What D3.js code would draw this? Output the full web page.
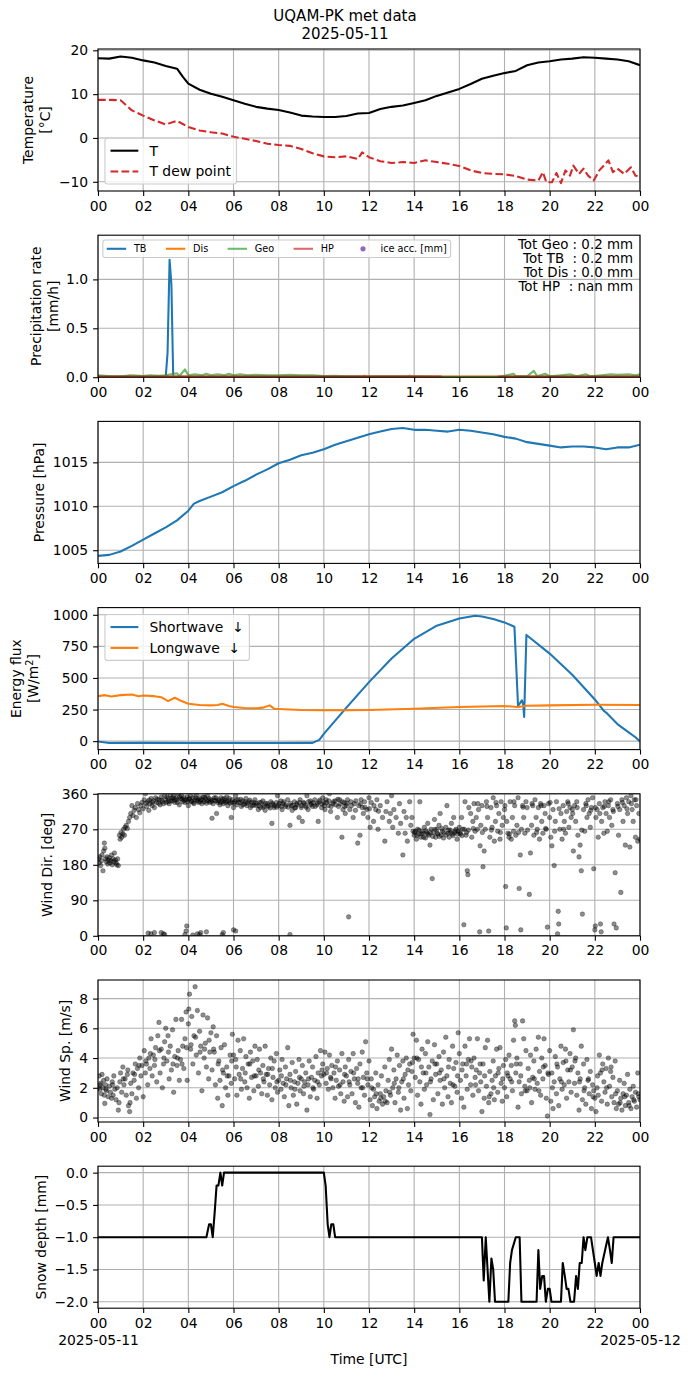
<!DOCTYPE html>
<html>
<head>
<meta charset="utf-8">
<script src="https://cdn.jsdelivr.net/npm/d3@7"></script>
<style>
  body { margin: 0; background: #fff; }
  text { font-family: "DejaVu Sans", sans-serif; }
</style>
</head>
<body>
<svg id="chart" width="690" height="1377"></svg>
<script>
// ---- data (hours UTC) ----
let title1 = "UQAM-PK met data", title2 = "2025-05-11";
let hourTicks = [0, 2, 4, 6, 8, 10, 12, 14, 16, 18, 20, 22, 24];

let tempT = [[0,18.2],[0.5,18.1],[1,18.6],[1.5,18.3],[2,17.7],[2.5,17.2],[3,16.4],[3.5,15.8],[3.75,14.0],[4,12.4],[4.5,11.0],[5,10.1],[5.5,9.4],[6,8.6],[6.5,7.8],[7,7.1],[7.5,6.7],[8,6.4],[8.5,5.8],[9,5.1],[9.5,4.9],[10,4.8],[10.5,4.8],[11,5.0],[11.5,5.6],[12,5.7],[12.5,6.6],[13,7.1],[13.5,7.4],[14,8.0],[14.5,8.6],[15,9.6],[15.5,10.4],[16,11.2],[16.5,12.3],[17,13.5],[17.5,14.2],[18,14.8],[18.5,15.3],[19,16.6],[19.5,17.2],[20,17.5],[20.5,17.9],[21,18.1],[21.5,18.4],[22,18.3],[22.5,18.1],[23,17.9],[23.5,17.5],[24,16.6]];
let tempTd = [[0,8.7],[0.5,8.7],[1,8.6],[1.5,6.3],[2,5.1],[2.5,4.0],[3,3.1],[3.5,3.9],[4,2.5],[4.5,1.7],[5,1.3],[5.5,1.0],[6,0.3],[6.5,-0.2],[7,-0.7],[7.5,-1.3],[8,-1.6],[8.5,-1.8],[9,-2.5],[9.5,-3.5],[10,-4.2],[10.5,-4.4],[11,-4.2],[11.5,-4.8],[11.7,-3.3],[12,-4.4],[12.5,-5.3],[13,-5.7],[13.5,-5.5],[14,-5.7],[14.5,-5.1],[15,-5.5],[15.5,-5.9],[16,-6.4],[16.5,-7.4],[17,-8.0],[17.5,-8.2],[18,-8.3],[18.5,-8.7],[19,-9.5],[19.5,-9.7],[19.7,-7.8],[19.85,-10.1],[20.1,-10.1],[20.3,-8.0],[20.5,-10.3],[20.7,-7.4],[20.9,-8.6],[21.05,-6.3],[21.3,-8.2],[21.5,-7.0],[21.7,-8.6],[21.95,-9.7],[22.2,-7.4],[22.4,-6.3],[22.6,-5.1],[22.8,-7.8],[23,-7.0],[23.3,-8.2],[23.6,-6.7],[23.8,-8.6],[24,-8.8]];

let precipTB = [[0,0.005],[3.0,0.005],[3.08,0.25],[3.17,1.2],[3.25,0.95],[3.33,0.005],[24,0.005]];
let precipDis = [[0,0.008],[1.35,0.008],[1.4,0.016],[1.45,0.008],[11.75,0.008],[11.8,0.016],[11.85,0.008],[13.75,0.008],[13.8,0.016],[13.85,0.008],[24,0.008]];
let precipGeo = [[0,0.02],[0.3,0.015],[0.6,0.01],[1.0,0.01],[1.5,0.02],[2.0,0.012],[2.3,0.02],[2.7,0.015],[3.0,0.02],[3.5,0.04],[3.6,0.01],[3.85,0.08],[4.0,0.02],[4.3,0.03],[4.6,0.02],[4.8,0.035],[5.0,0.02],[5.3,0.03],[5.6,0.02],[5.8,0.035],[6.0,0.02],[6.3,0.03],[6.6,0.02],[7.0,0.025],[7.5,0.02],[8.0,0.02],[8.5,0.025],[9.0,0.02],[9.5,0.02],[10.0,0.012],[10.5,0.015],[11.0,0.01],[12.0,0.01],[13,0.01],[14,0.01],[15.2,0.005],[15.3,0],[17.7,0],[17.9,0.01],[18.4,0.035],[18.5,0.01],[19.0,0.01],[19.3,0.065],[19.45,0.01],[19.8,0.035],[20.0,0.01],[20.5,0.02],[20.9,0.03],[21.2,0.01],[21.6,0.03],[21.8,0.01],[22.3,0.02],[22.7,0.03],[23.0,0.025],[23.5,0.03],[23.8,0.02],[24,0.03]];
let precipHP = [[0,0.007],[15.2,0.007],[15.2,null],[17.7,null],[17.7,0.007],[24,0.007]];
let precipTotals = ["Tot Geo : 0.2 mm", "Tot TB  : 0.2 mm", "Tot Dis : 0.0 mm", "Tot HP  : nan mm"];

let pressure = [[0,1004.36],[0.5,1004.47],[1,1004.85],[1.5,1005.5],[2,1006.2],[2.5,1006.9],[3,1007.6],[3.5,1008.4],[4,1009.5],[4.25,1010.3],[4.5,1010.6],[5,1011.1],[5.5,1011.6],[6,1012.3],[6.5,1012.9],[7,1013.6],[7.5,1014.2],[8,1014.9],[8.5,1015.3],[9,1015.8],[9.5,1016.1],[10,1016.5],[10.5,1017.0],[11,1017.4],[11.5,1017.8],[12,1018.2],[12.5,1018.5],[13,1018.8],[13.5,1018.9],[14,1018.7],[14.5,1018.7],[15,1018.6],[15.5,1018.5],[16,1018.7],[16.5,1018.6],[17,1018.4],[17.5,1018.2],[18,1017.9],[18.5,1017.7],[19,1017.3],[19.5,1017.1],[20,1016.9],[20.5,1016.7],[21,1016.8],[21.5,1016.8],[22,1016.7],[22.5,1016.5],[23,1016.7],[23.5,1016.7],[24,1017.0]];

let swDown = [[0,-3],[0.5,-15],[2,-14],[4,-15],[6,-15],[8,-15],[9.5,-14],[9.8,10],[10,57],[11,265],[12,467],[13,654],[14,810],[15,914],[16,971],[16.7,992],[17,987],[17.5,966],[18,940],[18.44,906],[18.6,278],[18.77,322],[18.83,291],[18.87,192],[18.97,841],[19,836],[20,693],[21,525],[22,330],[22.4,239],[22.5,226],[23,135],[23.5,70],[23.8,31],[24,-3]];
let lwDown = [[0,356],[0.3,364],[0.6,353],[1,364],[1.5,369],[1.8,356],[2,361],[2.5,356],[2.8,348],[3.1,317],[3.4,343],[3.7,317],[4,296],[4.5,286],[5,283],[5.3,286],[5.5,296],[5.8,278],[6,270],[6.5,262],[7,260],[7.3,265],[7.6,283],[7.8,257],[8,255],[9,247],[10,244],[11,244],[12,247],[14,257],[16,270],[18,278],[18.6,270],[19,280],[20,283],[22,288],[24,286]];

let windDir = [[0.02,195],[0.05,185],[0.08,200],[0.12,178],[0.15,190],[0.18,205],[0.22,165],[0.25,215],[0.28,235],[0.3,222],[0.33,195],[0.37,188],[0.4,200],[0.43,182],[0.47,192],[0.5,198],[0.53,185],[0.57,190],[0.6,205],[0.63,180],[0.67,195],[0.7,188],[0.73,210],[0.77,192],[0.8,185],[0.83,180],[0.87,195],[0.9,178],
[0.95,255],[0.98,245],[1.02,262],[1.05,250],[1.1,258],[1.13,270],[1.17,255],[1.2,275],[1.25,280],[1.3,272],[1.35,290],[1.4,300],[1.45,310],[1.5,330],[1.55,305],[1.6,318],[1.65,325],[1.7,300],[1.75,335],[1.8,320],[1.85,312],[1.9,330],[1.95,338],[2.0,322],
[2.05,345],[2.1,360],[2.15,328],[2.2,340],[2.25,318],[2.3,335],[2.35,348],[2.4,330],[2.45,342],[2.5,325],[2.55,350],[2.6,338],[2.7,345],[2.75,332],[2.8,352],[2.85,340],[2.9,335],[2.95,355],[2.22,7],[2.35,5],[2.5,8],[2.8,8],[2.9,5],[2.95,3],
[3.0,345],[3.05,352],[3.1,340],[3.15,335],[3.2,358],[3.25,348],[3.3,342],[3.35,355],[3.4,338],[3.45,350],[3.5,345],[3.55,360],[3.6,332],[3.65,348],[3.7,355],[3.75,340],[3.8,350],[3.85,338],[3.9,345],[3.95,352],[3.9,12],[3.93,25],[3.85,3],
[4.0,330],[4.05,348],[4.1,355],[4.15,340],[4.2,350],[4.25,335],[4.3,345],[4.35,358],[4.4,342],[4.45,338],[4.5,350],[4.55,345],[4.6,335],[4.65,352],[4.7,340],[4.75,348],[4.8,336],[4.85,355],[4.9,343],[4.95,338],[4.2,2],[4.4,5],[4.5,3],[4.55,8],[4.8,10],
[5.0,345],[5.05,298],[5.1,335],[5.15,350],[5.2,342],[5.25,310],[5.3,338],[5.35,345],[5.4,332],[5.45,350],[5.5,340],[5.55,335],[5.6,348],[5.65,338],[5.7,352],[5.75,330],[5.8,342],[5.85,336],[5.9,300],[5.95,345],[5.55,8],[5.5,3],[6.0,15],[6.1,12],
[6.0,325],[6.05,340],[6.1,355],[6.15,332],[6.2,345],[6.3,338],[6.35,328],[6.4,342],[6.5,335],[6.55,348],[6.6,330],[6.7,340],[6.75,325],[6.8,338],[6.9,332],[6.95,345],
[7.0,330],[7.1,320],[7.15,338],[7.2,325],[7.3,342],[7.35,330],[7.4,318],[7.5,335],[7.55,328],[7.65,340],[7.7,285],[7.75,332],[7.8,325],[7.9,338],[7.95,355],
[8.0,330],[8.1,342],[8.15,320],[8.2,335],[8.3,328],[8.4,345],[8.5,280],[8.55,330],[8.6,318],[8.7,340],[8.75,325],[8.8,335],[8.9,300],[8.95,345],[8.5,3],
[9.0,325],[9.05,290],[9.1,338],[9.2,330],[9.25,355],[9.3,320],[9.4,342],[9.45,335],[9.5,328],[9.6,345],[9.7,332],[9.75,290],[9.8,340],[9.9,325],[9.95,350],
[10.0,338],[10.05,320],[10.1,345],[10.2,330],[10.25,360],[10.3,315],[10.4,335],[10.5,342],[10.6,300],[10.65,328],[10.7,345],[10.8,250],[10.85,320],[10.9,338],[10.95,310],
[11.0,330],[11.05,345],[11.1,48],[11.15,320],[11.2,340],[11.3,300],[11.35,335],[11.4,318],[11.5,235],[11.55,330],[11.6,255],[11.65,345],[11.7,325],[11.75,310],[11.8,340],[11.9,320],[11.95,300],
[12.0,350],[12.05,275],[12.1,338],[12.2,290],[12.3,320],[12.35,345],[12.4,270],[12.5,330],[12.6,300],[12.7,240],[12.75,315],[12.8,340],[12.9,290],[12.95,310],[13.0,355],
[13.05,275],[13.1,320],[13.2,300],[13.3,260],[13.35,335],[13.4,285],[13.5,205],[13.55,315],[13.6,260],[13.65,300],[13.7,240],[13.8,340],[13.85,280],[13.9,300],[13.95,265],
[14.0,255],[14.05,265],[14.1,245],[14.15,270],[14.2,258],[14.25,340],[14.3,250],[14.35,265],[14.4,260],[14.45,275],[14.5,248],[14.55,262],[14.6,285],[14.65,255],[14.7,230],[14.75,270],[14.8,145],[14.85,262],[14.9,295],[14.95,250],
[15.0,270],[15.05,258],[15.1,280],[15.15,310],[15.2,255],[15.25,265],[15.3,248],[15.4,275],[15.45,330],[15.5,260],[15.55,250],[15.6,268],[15.65,285],[15.7,258],[15.75,300],[15.8,262],[15.85,270],[15.9,245],[15.95,265],
[16.0,275],[16.05,258],[16.1,300],[16.15,270],[16.2,28],[16.25,340],[16.3,255],[16.35,165],[16.38,155],[16.4,268],[16.5,310],[16.55,250],[16.6,290],[16.65,335],[16.7,265],[16.75,300],[16.8,270],[16.85,320],[16.9,10],[16.92,228],[16.95,280],
[17.0,330],[17.05,175],[17.1,215],[17.15,270],[17.2,340],[17.25,300],[17.3,12],[17.35,250],[17.4,325],[17.45,275],[17.5,350],[17.55,240],[17.6,290],[17.65,330],[17.7,265],[17.75,310],[17.8,245],[17.85,340],[17.9,280],[17.95,300],
[18.0,320],[18.05,125],[18.08,20],[18.1,290],[18.15,260],[18.2,250],[18.25,340],[18.3,245],[18.35,300],[18.4,265],[18.45,330],[18.5,255],[18.55,280],[18.6,350],[18.65,120],[18.7,205],[18.72,15],[18.75,270],[18.8,330],[18.85,300],[18.9,260],[18.95,340],
[19.0,325],[19.1,105],[19.15,210],[19.2,280],[19.25,330],[19.3,255],[19.35,345],[19.4,300],[19.45,270],[19.5,325],[19.55,245],[19.6,335],[19.65,290],[19.7,260],[19.75,330],[19.8,310],[19.85,270],[19.9,22],[19.95,335],
[20.0,300],[20.05,250],[20.1,228],[20.15,320],[20.2,178],[20.25,290],[20.3,340],[20.35,5],[20.38,62],[20.4,30],[20.45,270],[20.5,310],[20.55,245],[20.6,330],[20.65,290],[20.7,260],[20.75,315],[20.8,340],[20.85,275],[20.9,325],[20.95,300],
[21.0,320],[21.05,215],[21.1,330],[21.15,290],[21.2,340],[21.25,255],[21.3,200],[21.35,230],[21.4,165],[21.45,55],[21.5,320],[21.55,265],[21.6,335],[21.65,300],[21.7,345],[21.75,310],[21.8,275],[21.85,325],[21.9,350],[21.95,170],
[22.0,15],[22.02,25],[22.05,300],[22.1,320],[22.15,250],[22.2,335],[22.25,30],[22.28,10],[22.3,290],[22.35,325],[22.4,260],[22.45,340],[22.5,310],[22.55,265],[22.6,330],[22.65,300],[22.7,345],[22.75,280],[22.8,320],[22.85,30],[22.9,160],[22.95,20],
[23.0,335],[23.05,255],[23.1,320],[23.15,110],[23.2,345],[23.25,290],[23.3,330],[23.35,230],[23.4,350],[23.45,310],[23.5,340],[23.55,225],[23.6,355],[23.65,320],[23.7,290],[23.75,345],[23.8,250],[23.85,330],[23.9,240],[23.95,310],[24.0,245],
[2.12,336],[2.27,344],[2.42,338],[2.62,346],[2.68,336],[2.82,344],[3.02,338],[3.12,348],[3.22,342],[3.32,350],[3.42,344],[3.52,338],[3.62,352],[3.72,346],[3.82,344],[3.97,340],[4.02,346],[4.12,342],[4.22,338],[4.32,350],[4.42,346],[4.52,340],[4.62,344],[4.72,352],[4.82,342],[4.92,348],[5.02,340],[5.12,344],[5.22,350],[5.32,342],[5.42,338],[5.52,346],[5.62,342],[5.72,340],[5.82,348],[5.92,338],[6.02,336],[6.12,344],[6.22,338],[6.32,346],[6.42,332],[6.52,340],[6.62,336],[6.72,344],[6.82,330],[6.92,338],[7.02,336],[7.12,330],[7.22,338],[7.32,326],[7.42,336],[7.52,330],[7.62,324],[7.72,336],[7.82,330],[7.92,326],[8.02,336],[8.12,328],[8.22,340],[8.32,332],[8.42,326],[8.52,336],[8.62,330],[8.72,324],[8.82,332],[8.92,338],[9.02,330],[9.12,336],[9.22,326],[9.32,340],[9.42,332],[9.52,338],[9.62,328],[9.72,336],[9.82,344],[9.92,334],[10.02,330],[10.12,338],[10.22,342],[10.32,328],[10.42,340],[10.52,332],[10.62,346],[10.72,334],[10.82,340],[10.92,328],[11.02,336],[11.22,330],[11.42,342],[11.62,334],[11.82,326],[12.02,322],[12.22,330],[12.42,316],
[14.02,262],[14.12,255],[14.22,268],[14.32,258],[14.42,250],[14.52,266],[14.62,258],[14.72,262],[14.82,252],[14.92,270],[15.02,260],[15.12,252],[15.22,272],[15.32,262],[15.42,256],[15.52,268],[15.62,262],[15.72,254],[15.82,266],[15.92,258],[16.02,262],[16.12,254],[16.22,270],[16.32,262],
[16.42,325],[16.62,272],[16.82,335],[17.02,262],[17.22,328],[17.42,268],[17.62,338],[17.82,262],[18.02,330],[18.22,258],[18.42,340],[18.62,262],[18.82,326],[19.02,268],[19.22,335],[19.42,262],[19.62,330],[19.82,272],[20.02,338],[20.22,265],[20.42,322],[20.62,270],[20.82,335],[21.02,310],[21.22,325],[21.42,268],[21.62,330],[21.82,318],[22.02,325],[22.22,310],[22.42,328],[22.62,340],[22.82,315],[23.02,328],[23.22,338],[23.42,322],[23.62,335],[23.82,345]];

let windSp = [[0.02,2.0],[0.05,2.8],[0.08,1.9],[0.12,2.3],[0.15,1.6],[0.18,2.9],[0.22,2.0],[0.25,2.5],[0.28,1.5],[0.3,0.95],[0.33,2.2],[0.37,1.8],[0.4,2.6],[0.45,1.4],[0.5,2.1],[0.55,1.7],[0.6,1.3],[0.63,2.4],[0.67,1.5],[0.7,2.8],[0.75,1.9],[0.8,1.2],[0.85,2.0],[0.9,0.5],[0.93,1.0],[0.97,2.4],
[1.0,3.0],[1.05,1.7],[1.1,3.4],[1.15,2.2],[1.2,2.6],[1.25,1.5],[1.3,2.9],[1.35,0.8],[1.4,0.4],[1.42,1.0],[1.45,2.3],[1.5,1.6],[1.55,3.0],[1.6,2.5],[1.65,3.6],[1.7,1.3],[1.75,3.3],[1.8,2.0],[1.85,4.0],[1.9,2.8],[1.95,3.5],
[2.0,1.4],[2.05,4.5],[2.1,3.0],[2.15,3.6],[2.2,2.2],[2.25,4.0],[2.3,3.3],[2.35,5.3],[2.4,2.8],[2.45,4.2],[2.5,3.5],[2.55,4.7],[2.6,2.4],[2.65,5.5],[2.7,6.4],[2.75,3.0],[2.8,4.6],[2.85,2.0],[2.9,3.6],[2.95,5.1],
[3.0,6.0],[3.05,3.8],[3.1,5.5],[3.15,2.6],[3.2,4.8],[3.25,3.2],[3.3,5.9],[3.35,1.7],[3.4,4.1],[3.45,6.6],[3.5,3.5],[3.55,4.5],[3.6,2.5],[3.65,3.9],[3.7,6.6],[3.75,4.8],[3.8,3.3],[3.85,5.3],[3.9,7.1],[3.95,2.5],
[4.0,6.3],[4.02,7.3],[4.05,8.3],[4.1,4.6],[4.15,6.8],[4.2,3.6],[4.25,5.5],[4.3,8.8],[4.35,4.2],[4.4,7.2],[4.45,3.0],[4.5,5.8],[4.55,4.8],[4.6,1.8],[4.65,6.9],[4.7,4.0],[4.75,5.0],[4.8,3.4],[4.85,6.7],[4.9,2.6],[4.95,4.4],
[5.0,5.7],[5.05,3.2],[5.1,6.1],[5.15,4.4],[5.2,2.2],[5.25,5.5],[5.3,1.3],[5.35,3.8],[5.4,2.5],[5.45,4.7],[5.5,0.8],[5.55,3.0],[5.6,4.9],[5.65,2.0],[5.7,3.4],[5.75,1.5],[5.8,2.8],[5.85,4.2],[5.9,2.3],[5.95,5.6],
[6.0,4.2],[6.05,2.6],[6.1,3.9],[6.15,1.5],[6.2,5.2],[6.25,2.9],[6.3,4.5],[6.35,1.9],[6.4,3.3],[6.45,5.3],[6.5,2.4],[6.55,4.1],[6.6,2.0],[6.65,3.6],[6.7,1.3],[6.75,4.4],[6.8,2.7],[6.85,3.8],[6.9,1.8],[6.95,4.8],
[7.0,2.8],[7.05,3.9],[7.1,2.1],[7.15,4.6],[7.2,3.0],[7.25,1.6],[7.3,3.5],[7.35,2.4],[7.4,4.8],[7.45,2.9],[7.5,1.5],[7.55,3.3],[7.6,2.2],[7.65,4.0],[7.7,1.2],[7.75,2.7],[7.8,3.8],[7.85,2.0],[7.9,4.3],[7.95,1.7],
[8.0,2.5],[8.05,3.2],[8.1,1.9],[8.15,3.9],[8.2,2.3],[8.25,1.4],[8.3,3.4],[8.35,2.6],[8.4,4.7],[8.45,0.8],[8.5,2.9],[8.55,2.0],[8.6,3.7],[8.65,1.5],[8.7,2.4],[8.75,3.1],[8.8,0.9],[8.85,2.3],[8.9,3.9],[8.95,1.8],
[9.0,2.6],[9.05,3.5],[9.1,1.6],[9.15,2.4],[9.2,3.0],[9.25,0.5],[9.3,2.2],[9.35,3.8],[9.4,1.4],[9.45,2.7],[9.5,3.4],[9.55,1.9],[9.6,2.5],[9.65,4.1],[9.7,1.3],[9.75,3.0],[9.8,2.2],[9.85,4.5],[9.9,2.8],[9.95,3.6],
[10.0,2.9],[10.05,4.4],[10.1,2.3],[10.15,3.3],[10.2,1.9],[10.25,4.2],[10.3,2.7],[10.35,3.5],[10.4,2.0],[10.45,3.0],[10.5,1.3],[10.55,2.5],[10.6,3.8],[10.65,2.1],[10.7,3.2],[10.75,1.6],[10.8,4.3],[10.85,2.4],[10.9,1.1],[10.95,3.4],
[11.0,2.8],[11.05,1.4],[11.1,3.9],[11.15,2.2],[11.2,3.1],[11.25,1.6],[11.3,4.3],[11.35,2.6],[11.4,1.0],[11.45,3.3],[11.5,2.3],[11.55,0.7],[11.6,3.6],[11.65,2.0],[11.7,4.4],[11.75,2.7],[11.8,1.5],[11.85,5.1],[11.9,3.0],[11.95,2.2],
[12.0,3.8],[12.05,1.2],[12.1,2.6],[12.15,0.8],[12.2,1.9],[12.25,1.4],[12.3,3.0],[12.35,0.6],[12.4,2.2],[12.45,1.1],[12.5,1.6],[12.55,2.8],[12.6,0.9],[12.65,1.4],[12.7,3.4],[12.75,1.8],[12.8,1.0],[12.85,2.5],[12.9,3.9],[12.95,1.5],
[13.0,4.6],[13.05,2.0],[13.1,3.2],[13.15,1.0],[13.2,2.6],[13.25,4.2],[13.3,1.7],[13.35,3.5],[13.4,0.5],[13.45,2.4],[13.5,3.8],[13.55,1.3],[13.6,2.9],[13.65,4.0],[13.7,0.6],[13.75,2.2],[13.8,3.6],[13.85,1.8],[13.9,3.1],[13.95,5.6],
[14.0,4.0],[14.05,2.7],[14.1,5.2],[14.15,1.5],[14.2,3.9],[14.25,2.4],[14.3,0.9],[14.35,4.6],[14.4,3.0],[14.45,1.9],[14.5,4.3],[14.55,2.2],[14.6,5.1],[14.65,3.4],[14.7,0.2],[14.75,2.6],[14.8,3.8],[14.85,1.2],[14.9,4.9],[14.95,2.9],
[15.0,3.6],[15.05,1.6],[15.1,4.1],[15.15,2.5],[15.2,3.2],[15.25,0.9],[15.3,4.4],[15.35,2.0],[15.4,5.4],[15.45,2.8],[15.5,1.4],[15.55,3.9],[15.6,2.3],[15.65,1.0],[15.7,4.8],[15.75,3.3],[15.8,2.1],[15.85,3.7],[15.9,1.7],[15.95,5.7],
[16.0,4.3],[16.05,2.5],[16.1,1.3],[16.15,3.6],[16.2,0.7],[16.25,4.8],[16.3,2.8],[16.35,1.9],[16.4,3.9],[16.45,5.3],[16.5,2.2],[16.55,3.4],[16.6,1.5],[16.65,4.0],[16.7,2.7],[16.75,3.2],[16.8,5.3],[16.85,1.8],[16.9,3.0],[16.95,2.4],
[17.0,0.4],[17.05,3.6],[17.1,1.3],[17.15,4.7],[17.2,2.1],[17.25,5.2],[17.3,1.0],[17.35,3.1],[17.4,1.6],[17.45,2.5],[17.5,3.8],[17.55,1.2],[17.6,2.8],[17.65,4.6],[17.7,1.7],[17.75,3.3],[17.8,4.7],[17.85,2.3],[17.9,1.1],[17.95,3.5],
[18.0,2.0],[18.05,3.9],[18.1,1.4],[18.15,2.8],[18.2,4.2],[18.25,2.6],[18.3,3.5],[18.35,1.8],[18.4,5.2],[18.45,6.5],[18.48,6.2],[18.5,3.0],[18.55,4.0],[18.6,0.7],[18.65,2.4],[18.7,3.6],[18.75,1.6],[18.8,6.5],[18.85,5.3],[18.9,2.1],[18.95,4.5],
[19.0,1.8],[19.05,3.3],[19.1,2.5],[19.15,4.2],[19.2,1.0],[19.25,2.7],[19.3,3.8],[19.35,1.9],[19.4,4.6],[19.45,2.3],[19.5,5.4],[19.55,3.1],[19.6,1.5],[19.65,4.0],[19.7,2.6],[19.75,5.3],[19.8,3.5],[19.85,1.3],[19.9,0.1],[19.95,2.9],
[20.0,4.5],[20.05,1.1],[20.1,3.0],[20.15,0.6],[20.2,2.4],[20.25,4.1],[20.3,1.6],[20.35,3.4],[20.4,0.8],[20.45,2.6],[20.5,4.8],[20.55,1.9],[20.6,3.7],[20.65,2.2],[20.7,4.6],[20.75,1.3],[20.8,3.2],[20.85,2.4],[20.9,4.3],[20.95,1.7],
[21.0,3.4],[21.05,5.9],[21.1,2.3],[21.15,4.0],[21.2,1.5],[21.25,3.0],[21.3,0.5],[21.35,2.6],[21.4,4.8],[21.45,1.2],[21.5,3.6],[21.55,2.0],[21.6,0.9],[21.65,3.9],[21.7,2.5],[21.75,1.6],[21.8,3.1],[21.85,0.6],[21.9,2.2],[21.95,1.8],
[22.0,1.3],[22.05,0.4],[22.1,2.0],[22.15,1.5],[22.2,4.2],[22.25,3.0],[22.3,1.1],[22.35,3.6],[22.4,2.4],[22.45,1.7],[22.5,3.3],[22.55,0.9],[22.6,4.0],[22.65,2.1],[22.7,3.1],[22.75,1.4],[22.8,2.7],[22.85,1.0],[22.9,3.8],[22.95,0.6],
[23.0,1.8],[23.05,0.9],[23.1,2.5],[23.15,1.3],[23.2,0.5],[23.25,1.6],[23.3,2.3],[23.35,0.8],[23.4,1.5],[23.45,2.9],[23.5,1.0],[23.55,1.9],[23.6,0.6],[23.65,1.4],[23.7,2.1],[23.75,1.1],[23.8,1.7],[23.85,0.7],[23.9,3.0],[23.95,1.4],[24.0,1.2],
[0.1,2.2],[0.35,1.9],[0.65,2.2],[1.12,2.6],[1.32,3.2],[1.62,2.9],[1.82,3.5],[2.12,3.8],[2.32,4.3],[2.52,3.9],[2.72,4.5],[2.92,4.0],[3.12,4.4],[3.32,3.6],[3.52,4.0],[3.72,3.6],[3.92,4.7],[4.12,4.9],[4.32,5.4],[4.52,4.4],[4.72,4.6],[4.92,5.2],[5.12,4.6],[5.32,3.6],[5.52,3.2],[5.72,2.8],[5.92,3.8],[6.12,3.4],[6.32,2.6],[6.52,3.0],[6.72,3.6],[6.92,2.8],[7.12,3.2],[7.32,2.6],[7.52,2.9],[7.72,3.3],[7.92,2.4],[8.12,2.8],[8.32,2.2],[8.52,2.5],[8.72,1.9],[8.92,2.7],[9.12,2.1],[9.32,2.6],[9.52,2.0],[9.72,2.4],[9.92,3.2],[10.12,3.0],[10.32,2.6],[10.52,3.4],[10.72,2.2],[10.92,2.9],[11.12,2.4],[11.32,3.0],[11.52,2.6],[11.72,2.0],[11.92,2.6],[12.12,2.0],[12.32,1.6],[12.52,1.3],[12.72,1.1],[12.92,1.7],[13.12,2.3],[13.32,2.0],[13.52,2.6],[13.72,3.2],[13.92,3.7],[14.12,4.0],[14.32,3.4],[14.52,3.0],[14.72,2.4],[14.92,3.6],[15.12,3.0],[15.32,2.6],[15.52,3.4],[15.72,2.2],[15.92,2.8],[16.12,3.2],[16.32,3.6],[16.52,3.8],[16.72,2.2],[16.92,3.6],[17.12,2.8],[17.32,1.4],[17.52,2.0],[17.72,3.0],[17.92,2.6],[18.12,3.0],[18.32,2.4],[18.52,3.6],[18.72,2.8],[18.92,1.8],[19.12,2.0],[19.32,2.6],[19.52,1.8],[19.72,3.4],[19.92,3.0],[20.12,2.0],[20.32,3.6],[20.52,2.4],[20.72,3.8],[20.92,3.2],[21.12,3.8],[21.32,2.4],[21.52,1.8],[21.72,2.6],[21.92,1.4],[22.12,2.8],[22.32,3.2],[22.52,2.0],[22.72,3.4],[22.92,1.6],[23.12,1.0],[23.32,1.4],[23.52,0.8],[23.72,1.2],[23.92,1.6]];

let snowDepth = [[0,-1],[4.8,-1],[4.92,-0.8],[5.0,-0.8],[5.08,-1.0],[5.17,-0.6],[5.25,-0.2],[5.33,-0.2],[5.42,0],[5.5,-0.2],[5.58,0],[5.67,0],[10.0,0],[10.08,-0.2],[10.17,-0.8],[10.25,-1.0],[10.33,-0.8],[10.42,-0.8],[10.5,-1.0],[17.0,-1],[17.08,-1.67],[17.17,-1.0],[17.33,-2.0],[17.42,-1.33],[17.5,-1.5],[17.58,-2.0],[18.17,-2.0],[18.25,-1.4],[18.33,-1.2],[18.5,-1.0],[18.67,-1.0],[18.75,-2.0],[19.42,-2.0],[19.5,-1.2],[19.58,-1.8],[19.67,-1.6],[19.75,-1.6],[19.83,-2.0],[19.92,-1.8],[20.0,-1.8],[20.08,-2.0],[20.5,-2.0],[20.58,-1.4],[20.67,-1.6],[20.75,-1.8],[20.83,-1.8],[20.92,-2.0],[21.08,-2.0],[21.17,-1.6],[21.25,-1.8],[21.33,-1.4],[21.42,-1.4],[21.5,-1.0],[21.58,-1.2],[21.67,-1.0],[21.83,-1.0],[22.0,-1.4],[22.08,-1.6],[22.17,-1.4],[22.25,-1.6],[22.33,-1.4],[22.58,-1.0],[22.67,-1.2],[22.75,-1.4],[22.83,-1.0],[24,-1]];

// ---- layout ----
const W = 690, H = 1377;
const left = 98, right = 640, top0 = 49, step = 186.2, ph = 142;
const FS = 13.9;
const svg = d3.select("#chart");
svg.append("rect").attr("width", W).attr("height", H).attr("fill", "#fff");

const x = d3.scaleLinear().domain([0, 24]).range([left, right]);
const hh = d3.format("02d");

function panel(i, ydom, yticks, yfmt) {
  const t = top0 + i * step;
  const y = d3.scaleLinear().domain(ydom).range([t + ph, t]);
  const g = svg.append("g");
  svg.append("clipPath").attr("id", "clip" + i)
    .append("rect").attr("x", left).attr("y", t).attr("width", right - left).attr("height", ph);
  // grid
  g.append("g").selectAll("line").data(hourTicks).join("line")
    .attr("x1", d => x(d)).attr("x2", d => x(d)).attr("y1", t).attr("y2", t + ph)
    .attr("stroke", "#b0b0b0").attr("stroke-width", 1.1);
  g.append("g").selectAll("line").data(yticks).join("line")
    .attr("x1", left).attr("x2", right).attr("y1", d => y(d)).attr("y2", d => y(d))
    .attr("stroke", "#b0b0b0").attr("stroke-width", 1.1);
  const plot = g.append("g").attr("clip-path", "url(#clip" + i + ")");
  return { i, g, plot, y, t, yticks, yfmt };
}

function finish(p) {
  p.g.append("rect").attr("x", left).attr("y", p.t).attr("width", right - left).attr("height", ph)
    .attr("fill", "none").attr("stroke", "#000").attr("stroke-width", 1.1);
  const ya = p.g.append("g").attr("transform", "translate(" + left + ",0)")
    .call(d3.axisLeft(p.y).tickValues(p.yticks).tickFormat(p.yfmt).tickSize(4.9).tickPadding(4.9));
  const xa = p.g.append("g").attr("transform", "translate(0," + (p.t + ph) + ")")
    .call(d3.axisBottom(x).tickValues(hourTicks).tickFormat(d => hh(d % 24)).tickSize(4.9).tickPadding(4.9));
  [ya, xa].forEach(a => {
    a.select(".domain").remove();
    a.attr("font-family", "DejaVu Sans").attr("font-size", FS);
    a.selectAll(".tick line").attr("stroke-width", 1.1);
    a.selectAll(".tick text").attr("fill", "#000");
  });
  return xa;
}

function ylabel(p, lines, xs) {
  const cy = p.t + ph / 2;
  lines.forEach((l, k) => {
    const tx = p.g.append("text")
      .attr("transform", "translate(" + xs[k] + "," + cy + ") rotate(-90)")
      .attr("text-anchor", "middle").attr("dy", "0.35em").attr("font-size", FS);
    if (typeof l === "string") tx.text(l);
    else l(tx);
  });
}

function line(p, data, color, width, opts) {
  opts = opts || {};
  const gen = d3.line().defined(d => d[1] !== null).x(d => x(d[0])).y(d => p.y(d[1]));
  p.plot.append("path").datum(data).attr("d", gen)
    .attr("fill", "none").attr("stroke", color).attr("stroke-width", width)
    .attr("stroke-opacity", opts.alpha || 1)
    .attr("stroke-dasharray", opts.dash || null)
    .attr("stroke-linejoin", "round");
}

function dots(p, data) {
  p.plot.append("g").selectAll("circle").data(data).join("circle")
    .attr("cx", d => x(d[0])).attr("cy", d => p.y(d[1])).attr("r", 2.3)
    .attr("fill", "#000").attr("fill-opacity", 0.45)
    .attr("stroke", "#000").attr("stroke-opacity", 0.45).attr("stroke-width", 0.6);
}

function legend(p, entries, fs, ncol, corner) {
  const pad = 0.4 * fs, hl = 2 * fs, htp = 0.8 * fs, cs = 2 * fs, ls = 0.5 * fs, bap = 0.5 * fs;
  const lg = p.g.append("g");
  const box = lg.append("rect");
  const texts = entries.map(e => lg.append("text").attr("font-size", fs).style("white-space", "pre").text(e.label));
  const widths = texts.map(t => t.node().getComputedTextLength());
  const pos = [];
  let w, h;
  if (ncol === 1) {
    w = pad * 2 + hl + htp + d3.max(widths);
    h = pad * 2 + entries.length * fs + (entries.length - 1) * ls;
    entries.forEach((e, k) => pos.push([pad, pad + k * (fs + ls)]));
  } else {
    let cx = pad;
    entries.forEach((e, k) => { pos.push([cx, pad]); cx += hl + htp + widths[k] + cs; });
    w = cx - cs + pad;
    h = pad * 2 + fs;
  }
  const x0 = left + bap;
  const y0 = corner === "upper" ? p.t + bap : p.t + ph - bap - h;
  box.attr("x", x0).attr("y", y0).attr("width", w).attr("height", h).attr("rx", 2.5)
    .attr("fill", "#fff").attr("fill-opacity", 0.8).attr("stroke", "#cccccc").attr("stroke-width", 1.1);
  entries.forEach((e, k) => {
    const hx = x0 + pos[k][0], cy = y0 + pos[k][1] + fs / 2;
    if (e.marker) {
      lg.append("circle").attr("cx", hx + hl / 2).attr("cy", cy).attr("r", 2.6).attr("fill", e.color);
    } else {
      lg.append("line").attr("x1", hx).attr("x2", hx + hl).attr("y1", cy).attr("y2", cy)
        .attr("stroke", e.color).attr("stroke-width", 2.08).attr("stroke-opacity", e.alpha || 1)
        .attr("stroke-dasharray", e.dash || null);
    }
    texts[k].attr("x", hx + hl + htp).attr("y", cy).attr("dy", "0.35em");
  });
}

// ---- title ----
svg.append("text").attr("x", W / 2).attr("y", 21).attr("text-anchor", "middle").attr("font-size", 15).text(title1);
svg.append("text").attr("x", W / 2).attr("y", 39).attr("text-anchor", "middle").attr("font-size", 15).text(title2);

// ---- temperature ----
let p1 = panel(0, [-12.1, 20.3], [-10, 0, 10, 20], d3.format("d"));
line(p1, tempT, "#000", 2.08);
line(p1, tempTd, "#d62728", 2.08, { dash: "7.7,3.3" });
finish(p1);
legend(p1, [{ label: "T", color: "#000" }, { label: "T dew point", color: "#d62728", dash: "7.7,3.3" }], FS, 1, "lower");
ylabel(p1, ["Temperature", "[°C]"], [28.5, 45]);

// ---- precipitation ----
let p2 = panel(1, [0, 1.452], [0, 0.5, 1.0], d3.format(".1f"));
line(p2, precipTB, "#1f77b4", 2.08);
line(p2, precipDis, "#ff7f0e", 2.08);
line(p2, precipGeo, "#2ca02c", 2.08, { alpha: 0.7 });
line(p2, precipHP, "#d62728", 2.08, { alpha: 0.7 });
finish(p2);
legend(p2, [
  { label: "TB", color: "#1f77b4" },
  { label: "Dis", color: "#ff7f0e" },
  { label: "Geo", color: "#2ca02c", alpha: 0.7 },
  { label: "HP", color: "#d62728", alpha: 0.7 },
  { label: "ice acc. [mm]", color: "#9467bd", marker: true }
], 9.7, 5, "upper");
precipTotals.forEach((s, k) => {
  p2.g.append("text").attr("x", 633).attr("y", p2.t + 9 + k * 13.9).attr("dy", "0.35em")
    .attr("text-anchor", "end").attr("font-size", 13.4)
    .style("white-space", "pre").text(s);
});
ylabel(p2, ["Precipitation rate", "[mm/h]"], [36.5, 53]);

// ---- pressure ----
let p3 = panel(2, [1003.5, 1019.66], [1005, 1010, 1015], d3.format("d"));
line(p3, pressure, "#1f77b4", 2.08);
finish(p3);
ylabel(p3, ["Pressure [hPa]"], [39]);

// ---- energy flux ----
let p4 = panel(3, [-67, 1057], [0, 250, 500, 750, 1000], d3.format("d"));
line(p4, swDown, "#1f77b4", 2.08);
line(p4, lwDown, "#ff7f0e", 2.08);
finish(p4);
legend(p4, [{ label: "Shortwave  ↓", color: "#1f77b4" }, { label: "Longwave  ↓", color: "#ff7f0e" }], FS, 1, "upper");
ylabel(p4, ["Energy flux", tx => {
  tx.append("tspan").text("[W/m");
  tx.append("tspan").attr("dy", -5).attr("font-size", 9.7).text("2");
  tx.append("tspan").attr("dy", 5).text("]");
}], [16, 32.7]);

// ---- wind direction ----
let p5 = panel(4, [0, 360], [0, 90, 180, 270, 360], d3.format("d"));
dots(p5, windDir);
finish(p5);
ylabel(p5, ["Wind Dir. [deg]"], [47.5]);

// ---- wind speed ----
let p6 = panel(5, [-0.3, 9.25], [0, 2, 4, 6, 8], d3.format("d"));
dots(p6, windSp);
finish(p6);
ylabel(p6, ["Wind Sp. [m/s]"], [65.5]);

// ---- snow depth ----
let p7 = panel(6, [-2.1, 0.1], [-2.0, -1.5, -1.0, -0.5, 0.0], d3.format(".1f"));
line(p7, snowDepth, "#000", 2.08);
let xa7 = finish(p7);
xa7.selectAll(".tick text").each(function (d) {
  if (d === 0 || d === 24) {
    const t = d3.select(this);
    t.text(null);
    t.append("tspan").attr("x", 0).text("00");
    t.append("tspan").attr("x", 0).attr("dy", "1.22em").text(d === 0 ? "2025-05-11" : "2025-05-12");
  }
});
ylabel(p7, ["Snow depth [mm]"], [41.5]);
svg.append("text").attr("x", (left + right) / 2).attr("y", 1364).attr("text-anchor", "middle")
  .attr("font-size", FS).text("Time [UTC]");
</script>
</body>
</html>
